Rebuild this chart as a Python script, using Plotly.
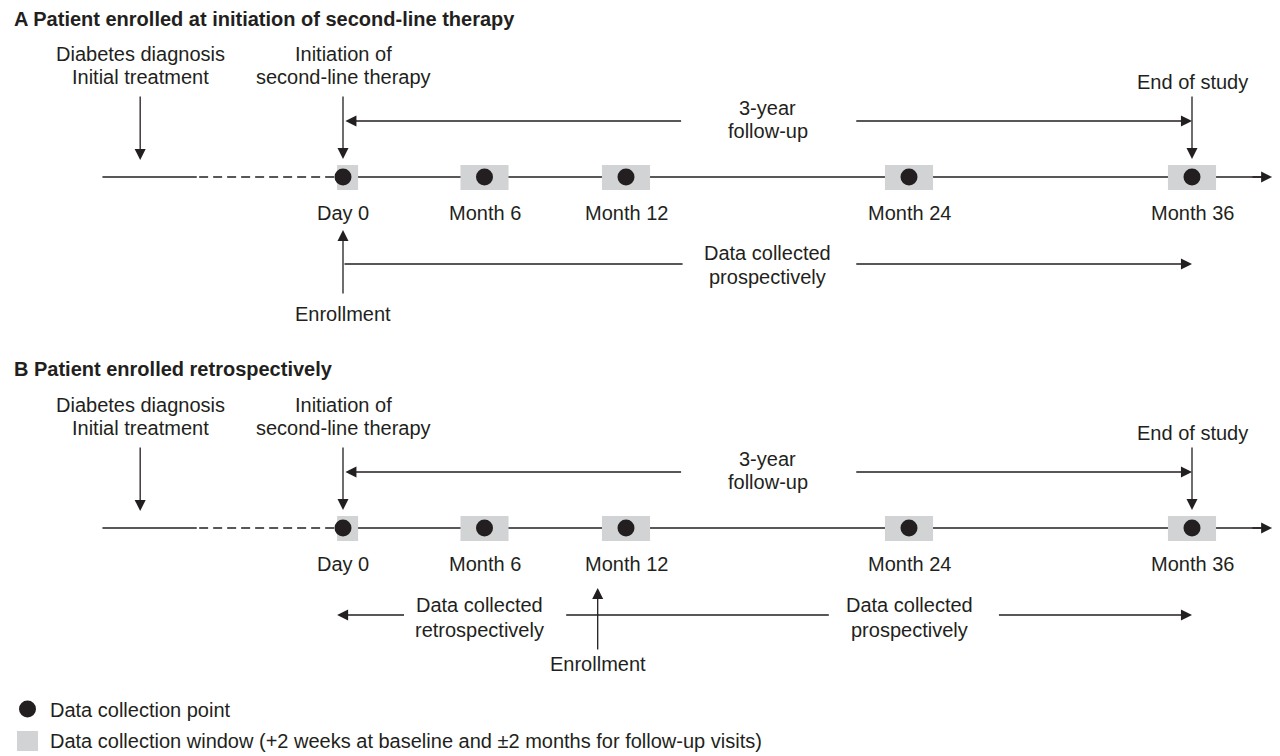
import plotly.graph_objects as go

# ---------------- data (months on the study time line) ----------------
visit_months = [0, 6, 12, 24, 36]
visit_labels = ["Day 0", "Month 6", "Month 12", "Month 24", "Month 36"]
diagnosis_month = -8.6          # diabetes diagnosis / initial treatment
history_start_month = -10.2     # start of the drawn time line
history_dash_month = -6.2       # where the dashed (unknown length) part begins
axis_end_month = 39.4           # arrow tip of the time line
followup_mid_month = 18         # centre of the "3-year follow-up" label
enroll_month_A = 0              # panel A: enrolled at second-line initiation
enroll_month_B = 10.8           # panel B: enrolled retrospectively
retro_label_month = 5.8
prosp_label_month_B = 24.0

panel_titles = ["A Patient enrolled at initiation of second-line therapy",
                "B Patient enrolled retrospectively"]

# ---------------- styling ----------------
FONT = "Liberation Sans, Arial, Helvetica, sans-serif"
INK = "#231f20"
GREY = "#d2d3d5"
FS = 20
W, H = 1280, 756
PX0 = 343.0                      # pixel of month 0
K = (1192.0 - 343.0) / 36.0      # pixels per month

fig = go.Figure()


def text(x, y, s, xref="x", xanchor="center", bold=False, size=FS):
    fig.add_annotation(x=x, y=y, xref=xref, yref="y", text=("<b>%s</b>" % s) if bold else s,
                       showarrow=False, xanchor=xanchor, yanchor="middle",
                       font=dict(family=FONT, size=size, color=INK))


def arrow(x, y, ax, ay, head=True):
    fig.add_annotation(x=x, y=y, ax=ax, ay=ay, xref="x", yref="y", axref="x", ayref="y",
                       text="", showarrow=True, arrowhead=2 if head else 0,
                       arrowsize=1.7, arrowwidth=1.3, arrowcolor=INK, standoff=0)


def panel(tl, title, title_y, kind):
    # title
    text(12 / W, title_y, title, xref="paper", xanchor="left", bold=True)
    # labels above the line
    text(diagnosis_month, tl - 123, "Diabetes diagnosis")
    text(diagnosis_month, tl - 100, "Initial treatment")
    text(visit_months[0], tl - 123, "Initiation of")
    text(visit_months[0], tl - 100, "second-line therapy")
    text(visit_months[-1], tl - 95, "End of study")
    arrow(diagnosis_month, tl - 17, diagnosis_month, tl - 82)
    arrow(visit_months[0], tl - 18, visit_months[0], tl - 82)
    arrow(visit_months[-1], tl - 18, visit_months[-1], tl - 82)
    # 3-year follow-up
    text(followup_mid_month, tl - 69, "%d-year" % 3)
    text(followup_mid_month, tl - 46, "follow-up")
    arrow(visit_months[0] + 0.1, tl - 56, followup_mid_month - 3.6, tl - 56)
    arrow(visit_months[-1], tl - 56, followup_mid_month + 3.7, tl - 56)

    # time line
    fig.add_trace(go.Scatter(x=[history_start_month, history_dash_month], y=[tl, tl], mode="lines",
                             line=dict(color=INK, width=1.4), hoverinfo="skip"))
    fig.add_trace(go.Scatter(x=[history_dash_month + 0.1, visit_months[0]], y=[tl, tl], mode="lines",
                             line=dict(color=INK, width=1.4, dash="9px,5px"), hoverinfo="skip"))
    fig.add_trace(go.Scatter(x=[visit_months[0], axis_end_month - 0.4], y=[tl, tl], mode="lines",
                             line=dict(color=INK, width=1.4), hoverinfo="skip"))
    arrow(axis_end_month, tl, axis_end_month - 0.9, tl)
    # collection windows
    for m in visit_months:
        lo, hi = (m - 0.25, m + 0.64) if m == 0 else (m - 1.02, m + 1.02)
        fig.add_trace(go.Scatter(x=[lo, hi, hi, lo, lo], y=[tl - 12, tl - 12, tl + 13, tl + 13, tl - 12],
                                 mode="lines", fill="toself", fillcolor=GREY, line=dict(width=0, color=GREY),
                                 hoverinfo="skip"))
    # collection points
    fig.add_trace(go.Scatter(x=visit_months, y=[tl] * len(visit_months), mode="markers",
                             marker=dict(size=17, color=INK, line=dict(width=0)), hoverinfo="skip"))
    for m, lab in zip(visit_months, visit_labels):
        text(m, tl + 36, lab)

    if kind == "A":
        arrow(enroll_month_A, tl + 53, enroll_month_A, tl + 118)
        text(enroll_month_A, tl + 137, "Enrollment")
        arrow(followup_mid_month - 3.6, tl + 87, enroll_month_A, tl + 87, head=False)
        arrow(visit_months[-1], tl + 87, followup_mid_month + 3.7, tl + 87)
        text(followup_mid_month, tl + 76, "Data collected")
        text(followup_mid_month, tl + 100, "prospectively")
    else:
        arrow(visit_months[0] - 0.25, tl + 87, retro_label_month - 3.15, tl + 87)
        text(retro_label_month, tl + 77, "Data collected")
        text(retro_label_month, tl + 102, "retrospectively")
        arrow(prosp_label_month_B - 3.4, tl + 87, retro_label_month + 3.6, tl + 87, head=False)
        arrow(visit_months[-1], tl + 87, prosp_label_month_B + 3.75, tl + 87)
        text(prosp_label_month_B, tl + 77, "Data collected")
        text(prosp_label_month_B, tl + 102, "prospectively")
        arrow(enroll_month_B, tl + 60, enroll_month_B, tl + 123)
        text(enroll_month_B, tl + 136, "Enrollment")


panel(177, panel_titles[0], 19, "A")
panel(528, panel_titles[1], 369, "B")

# legend (key)
fig.add_shape(type="circle", xref="paper", yref="y", x0=19 / W, x1=36 / W, y0=700.5, y1=717.5,
              fillcolor=INK, line=dict(width=0))
text(48 / W, 710, "Data collection point", xref="paper", xanchor="left")
fig.add_shape(type="rect", xref="paper", yref="y", x0=17 / W, x1=38 / W, y0=731, y1=751,
              fillcolor=GREY, line=dict(width=0))
text(48 / W, 741, "Data collection window (+2 weeks at baseline and \u00b12 months for follow-up visits)",
     xref="paper", xanchor="left")

fig.update_layout(
    width=W, height=H, margin=dict(l=0, r=0, t=0, b=0),
    paper_bgcolor="white", plot_bgcolor="white", showlegend=False,
    xaxis=dict(range=[-PX0 / K, (W - PX0) / K], visible=False, fixedrange=True),
    yaxis=dict(range=[H, 0], visible=False, fixedrange=True),
)

fig.write_html("out.html", config={"displayModeBar": False},
               post_script="document.body.style.margin='0';document.body.style.overflow='hidden';")
